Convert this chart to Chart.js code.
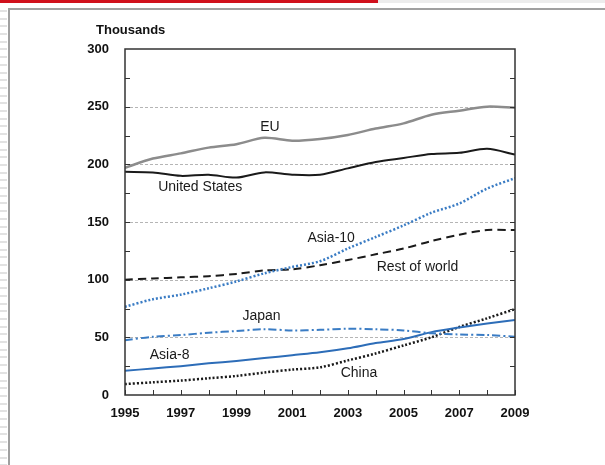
<!DOCTYPE html>
<html>
<head>
<meta charset="utf-8">
<script src="https://cdn.jsdelivr.net/npm/chart.js@4.4.1/dist/chart.umd.min.js"></script>
<style>
  html, body { margin: 0; padding: 0; background: #fff; }
  #page { position: relative; width: 605px; height: 465px; overflow: hidden; }
  #redbar { position: absolute; left: 0; top: 0; width: 378px; height: 3px; background: #d0101c; }
  #topstrip { position: absolute; left: 378px; top: 0; right: 0; height: 3px; background: #ececec; }
  #stripes {
    position: absolute; left: 0; top: 10px; width: 7px; bottom: 0;
    background: repeating-linear-gradient(to bottom, #e2e2e2 0, #e2e2e2 2px, #fff 2px, #fff 7.7px);
  }
  #frame { position: absolute; left: 8px; top: 8px; right: -4px; bottom: -4px;
           border-left: 2px solid #a0a0a0; border-top: 2px solid #a0a0a0; }
  #unit { position: absolute; left: 96px; top: 22px; font: bold 13px "Liberation Sans", Arial, sans-serif; color: #111; }
  canvas { position: absolute; left: 0; top: 0; }
</style>
</head>
<body>
<div id="page">
  <div id="redbar"></div>
  <div id="topstrip"></div>
  <div id="stripes"></div>
  <div id="frame"></div>
  <canvas id="chart" width="605" height="465"></canvas>
  <div id="unit">Thousands</div>
</div>
<script>
// years and series (thousands)
const years = [1995, 1996, 1997, 1998, 1999, 2000, 2001, 2002, 2003, 2004, 2005, 2006, 2007, 2008, 2009];
const euValues    = [197, 205, 209.5, 214.5, 217.5, 223, 220.5, 222, 225.5, 231, 235.5, 243, 246.5, 250, 249];
const usValues    = [193.5, 193, 190, 191, 188.5, 193, 191, 191, 196.5, 202, 205.5, 209, 210, 213.5, 208.5];
const asia10Values = [76.5, 83, 87, 92.5, 98.5, 105.5, 111, 116, 127, 137, 147, 158, 166, 179, 188];
const rowValues   = [100, 101, 102, 103, 105, 108, 109, 112.5, 117, 122, 127, 133.5, 139, 143, 143];
const japanValues = [47.5, 50.5, 52, 54, 55.5, 57, 56, 56.5, 57.5, 57, 56, 53.5, 52.5, 52, 50.5];
const asia8Values = [21, 23, 25, 27.5, 29.5, 32, 34.5, 37, 40.5, 45, 48.5, 54.5, 58.5, 62, 65];
const chinaValues = [9.5, 11, 12.5, 14.5, 16.5, 19.5, 22, 24, 30, 36, 43, 50, 59, 66.5, 74.5];

// series labels: [text, year, value]
const seriesLabels = [
  ['EU', 2000.2, 232],
  ['United States', 1997.7, 180],
  ['Asia-10', 2002.4, 136],
  ['Rest of world', 2005.5, 111],
  ['Japan', 1999.9, 68.5],
  ['Asia-8', 1996.6, 34.5],
  ['China', 2003.4, 19]
];

const yMin = 0, yMax = 300;

function pts(vals) {
  return years.map((yr, i) => ({ x: yr, y: vals[i] }));
}

function ds(label, vals, color, width, dash) {
  return {
    label: label,
    data: pts(vals),
    borderColor: color,
    borderWidth: width,
    borderDash: dash,
    borderCapStyle: 'butt',
    pointRadius: 0,
    fill: false,
    tension: 0.3
  };
}

// frame, grid and inward ticks
const framePlugin = {
  id: 'frame',
  beforeDatasetsDraw(chart) {
    const { ctx, chartArea: a, scales: { x, y } } = chart;
    ctx.save();
    ctx.strokeStyle = '#b5b5b5';
    ctx.lineWidth = 1;
    ctx.setLineDash([3, 2]);
    for (let v = 50; v < yMax; v += 50) {
      const py = Math.round(y.getPixelForValue(v)) + 0.5;
      ctx.beginPath(); ctx.moveTo(a.left, py); ctx.lineTo(a.right, py); ctx.stroke();
    }
    ctx.restore();
  },
  afterDatasetsDraw(chart) {
    const { ctx, chartArea: a, scales: { x, y } } = chart;
    ctx.save();
    ctx.strokeStyle = '#333';
    ctx.lineWidth = 1.5;
    ctx.strokeRect(a.left, a.top, a.right - a.left, a.bottom - a.top);
    ctx.lineWidth = 1;
    ctx.beginPath();
    for (let v = 25; v < yMax; v += 25) {
      const py = Math.round(y.getPixelForValue(v)) + 0.5;
      ctx.moveTo(a.left, py); ctx.lineTo(a.left + 5, py);
      ctx.moveTo(a.right, py); ctx.lineTo(a.right - 5, py);
    }
    years.forEach(yr => {
      const px = Math.round(x.getPixelForValue(yr)) + 0.5;
      ctx.moveTo(px, a.bottom); ctx.lineTo(px, a.bottom - 5);
    });
    ctx.stroke();

    ctx.fillStyle = '#1a1a1a';
    ctx.font = '14px "Liberation Sans", Arial, sans-serif';
    ctx.textAlign = 'center';
    ctx.textBaseline = 'middle';
    seriesLabels.forEach(([t, xv, yv]) => {
      ctx.fillText(t, x.getPixelForValue(xv), y.getPixelForValue(yv));
    });
    ctx.restore();
  }
};

const tickFont = { family: '"Liberation Sans", Arial, sans-serif', size: 13, weight: 'bold' };

new Chart(document.getElementById('chart'), {
  type: 'line',
  data: {
    datasets: [
      ds('EU', euValues, '#8c8c8c', 2.5, []),
      ds('United States', usValues, '#1a1a1a', 2, []),
      ds('Asia-10', asia10Values, '#3a7cc4', 2.5, [2, 2]),
      ds('Rest of world', rowValues, '#1a1a1a', 2, [8, 5]),
      ds('Japan', japanValues, '#3a7cc4', 2, [8, 3, 2, 3]),
      ds('Asia-8', asia8Values, '#2d6db8', 2, []),
      ds('China', chinaValues, '#1a1a1a', 2.5, [2, 2])
    ]
  },
  options: {
    responsive: false,
    animation: false,
    layout: { padding: { left: 85, top: 49, right: 90, bottom: 40 } },
    plugins: {
      legend: { display: false },
      tooltip: { enabled: false }
    },
    scales: {
      x: {
        type: 'linear',
        min: 1995,
        max: 2009,
        grid: { display: false },
        border: { display: false },
        afterFit(s) { s.height = 30; },
        ticks: {
          stepSize: 1,
          autoSkip: false,
          maxRotation: 0,
          padding: 3,
          color: '#111',
          font: tickFont,
          callback: v => (v % 2 === 1 ? String(v) : '')
        }
      },
      y: {
        min: yMin,
        max: yMax,
        grid: { display: false },
        border: { display: false },
        afterFit(s) { s.width = 40; },
        ticks: {
          stepSize: 25,
          padding: 8,
          color: '#111',
          font: tickFont,
          callback: v => (v % 50 === 0 ? String(v) : '')
        }
      }
    }
  },
  plugins: [framePlugin]
});
</script>
</body>
</html>
